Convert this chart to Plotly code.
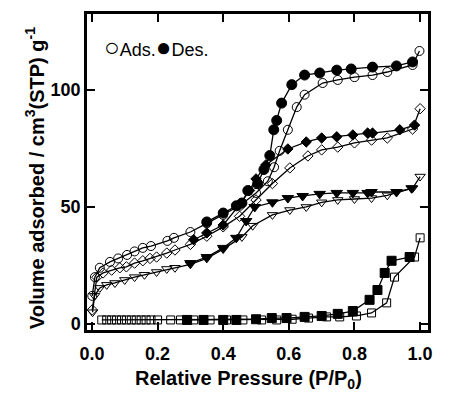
import plotly.graph_objects as go

# (a) circles
a_ads_x = [0.001, 0.009, 0.024, 0.055, 0.08, 0.107, 0.13, 0.155, 0.18, 0.23, 0.25, 0.30, 0.35, 0.40, 0.45, 0.50, 0.536, 0.555, 0.572, 0.597, 0.624, 0.648, 0.703, 0.749, 0.80, 0.855, 0.90, 0.977, 0.998]
a_ads_y = [12, 20, 24, 26.5, 28, 29.5, 31, 32.5, 33.3, 35.5, 36.8, 39.3, 43, 46.6, 50.5, 56, 61, 67, 74, 83, 92.7, 98, 103, 104.3, 105.5, 106.4, 107.7, 110.7, 116.7]
a_des_x = [0.35, 0.40, 0.44, 0.457, 0.475, 0.505, 0.524, 0.542, 0.554, 0.563, 0.578, 0.609, 0.648, 0.694, 0.746, 0.79, 0.855, 0.928, 0.977]
a_des_y = [43.6, 47.4, 50.5, 51.7, 57, 60, 66, 72, 83, 87, 94.4, 102.3, 106.4, 107.3, 108.5, 109, 109.8, 110.3, 112]

# (c) diamonds
c_ads_x = [0.001, 0.015, 0.034, 0.06, 0.085, 0.105, 0.13, 0.155, 0.177, 0.197, 0.228, 0.253, 0.30, 0.35, 0.40, 0.45, 0.50, 0.55, 0.603, 0.658, 0.70, 0.749, 0.80, 0.852, 0.90, 0.977, 1.0]
c_ads_y = [6, 20, 21.8, 23, 24, 24.4, 26, 27, 28, 28.6, 30.3, 31.6, 34, 37.5, 41.5, 46, 53, 60, 66.7, 71.8, 74.4, 75.6, 77.4, 78.6, 79.5, 83.3, 92]
c_des_x = [0.31, 0.35, 0.40, 0.45, 0.48, 0.50, 0.53, 0.597, 0.653, 0.70, 0.746, 0.795, 0.84, 0.855, 0.938, 0.983]
c_des_y = [36, 38.9, 42.3, 51, 57, 62, 68, 74.8, 77.8, 79.5, 80, 80.8, 81.6, 81.6, 83, 85]

# (b) down triangles
b_ads_x = [0.002, 0.008, 0.024, 0.045, 0.07, 0.10, 0.13, 0.16, 0.197, 0.228, 0.253, 0.30, 0.35, 0.40, 0.457, 0.49, 0.55, 0.603, 0.653, 0.70, 0.749, 0.80, 0.852, 0.90, 0.977, 1.0]
b_ads_y = [5, 12, 15.4, 16.7, 17.5, 18.8, 20, 21, 22.2, 23.5, 24, 25.5, 28, 32, 37.2, 42, 46.6, 48.7, 50, 52, 53, 53.4, 53.8, 55, 58, 63]
b_des_x = [0.30, 0.35, 0.40, 0.44, 0.47, 0.496, 0.55, 0.597, 0.642, 0.694, 0.746, 0.795, 0.84, 0.852, 0.928, 0.974]
b_des_y = [26, 28.6, 32.5, 36.8, 44, 50, 52, 53.8, 54.7, 55.6, 56, 56, 56, 56.4, 56.4, 58]

# (d) squares
d_ads_x = [0.03, 0.045, 0.06, 0.075, 0.09, 0.105, 0.12, 0.135, 0.15, 0.165, 0.18, 0.20, 0.24, 0.27, 0.31, 0.36, 0.41, 0.46, 0.517, 0.563, 0.61, 0.66, 0.715, 0.755, 0.806, 0.852, 0.898, 0.922, 0.983, 1.0]
d_ads_y = [1.7, 1.7, 1.7, 1.7, 1.7, 1.7, 1.7, 1.7, 1.7, 1.7, 1.7, 1.7, 1.7, 1.7, 1.7, 1.7, 1.7, 1.7, 1.7, 1.7, 2, 2.5, 3, 3, 3.4, 4.7, 9, 20, 28.6, 36.8]
d_des_x = [0.29, 0.34, 0.40, 0.44, 0.50, 0.548, 0.593, 0.648, 0.70, 0.749, 0.795, 0.846, 0.87, 0.892, 0.913, 0.968]
d_des_y = [1.7, 1.7, 1.7, 1.7, 2, 2.5, 2.5, 3, 3.4, 4.3, 5.5, 10.3, 14.5, 21.8, 27, 28.6]

series_labels = ["(a)", "(c)", "(b)", "(d)"]
label_y = [116, 90, 61.5, 28]

x_ticks = [0.0, 0.2, 0.4, 0.6, 0.8, 1.0]
x_tick_text = ["0.0", "0.2", "0.4", "0.6", "0.8", "1.0"]
y_ticks = [0, 50, 100]

x_title = "Relative Pressure (P/P<sub>0</sub>)"
y_title = "Volume adsorbed / cm<sup>3</sup>(STP) g<sup>-1</sup>"

FONT = "Arial, Liberation Sans, sans-serif"

fig = go.Figure()

def add(x, y, sym, size, filled):
    fig.add_trace(go.Scatter(
        x=x, y=y, mode="lines+markers",
        line=dict(color="black", width=1.3),
        marker=dict(symbol=sym if filled else sym + "-open", size=size,
                    color="black", line=dict(color="black", width=1)),
        showlegend=False, hoverinfo="skip"))

add(a_ads_x, a_ads_y, "circle", 9, False)
add(a_des_x, a_des_y, "circle", 10, True)
add(c_ads_x, c_ads_y, "diamond", 8, False)
add(c_des_x, c_des_y, "diamond", 8, True)
add(b_ads_x, b_ads_y, "triangle-down", 9, False)
add(b_des_x, b_des_y, "triangle-down", 10, True)
add(d_ads_x, d_ads_y, "square", 8, False)
add(d_des_x, d_des_y, "square", 9, True)

for lab, ly in zip(series_labels, label_y):
    fig.add_annotation(x=1.028, y=ly, xref="x", yref="y", text=lab, showarrow=False,
                       xanchor="left", yanchor="middle",
                       font=dict(family=FONT, size=18, color="black"))

fig.add_annotation(x=0.03, y=118.5, xref="x", yref="y",
                   text="<span style='font-size:26px'>○</span>Ads.<span style='font-size:26px'>●</span>Des.",
                   showarrow=False, xanchor="left", yanchor="middle",
                   font=dict(family=FONT, size=18, color="black"))

# axis titles
fig.add_annotation(x=0.475, y=-0.158, xref="paper", yref="paper", text=x_title, showarrow=False,
                   xanchor="center", yanchor="middle",
                   font=dict(family=FONT, size=20, color="black", weight="bold"))
fig.add_annotation(x=-0.155, y=0.481, xref="paper", yref="paper", text=y_title, showarrow=False,
                   xanchor="center", yanchor="middle", textangle=-90,
                   font=dict(family=FONT, size=20, color="black", weight="bold"))

fig.update_layout(
    width=457, height=394,
    margin=dict(l=87, r=29, t=14, b=64, autoexpand=False),
    paper_bgcolor="white", plot_bgcolor="white",
    font=dict(family=FONT, color="black"),
    xaxis=dict(range=[-0.015, 1.024], tickvals=x_ticks, ticktext=x_tick_text,
               ticks="inside", ticklen=8, tickwidth=2, tickcolor="black",
               showline=True, linewidth=2.5, linecolor="black", mirror="ticks",
               showgrid=False, zeroline=False, ticklabelstandoff=6, automargin=False,
               tickfont=dict(family=FONT, size=18, color="black", weight="bold")),
    yaxis=dict(range=[-2.6, 132.5], tickvals=y_ticks,
               ticks="inside", ticklen=8, tickwidth=2, tickcolor="black",
               showline=True, linewidth=2.5, linecolor="black", mirror="ticks",
               showgrid=False, zeroline=False, automargin=False,
               tickfont=dict(family=FONT, size=18, color="black", weight="bold")),
)

fig.write_html("out.html")
